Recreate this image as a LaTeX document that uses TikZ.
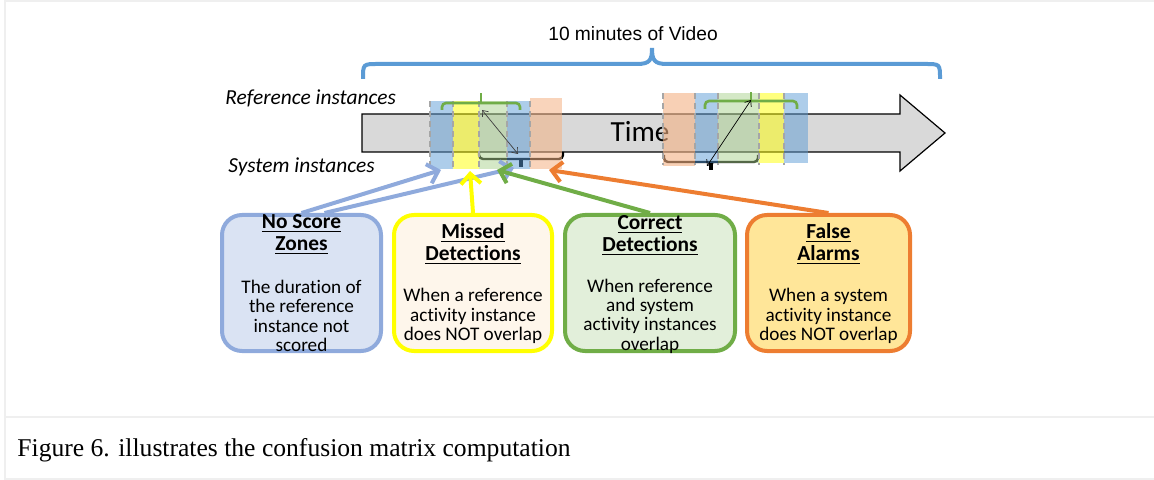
\documentclass[tikz,border=0pt]{standalone}
\usepackage{fontspec}
\setmainfont{Liberation Serif}
\newfontfamily\calfont[Ligatures=NoCommon]{Carlito}
\newfontfamily\arialfont{Liberation Sans}
\usetikzlibrary{arrows.meta}
\definecolor{framec}{HTML}{EFEFEF}
\definecolor{bracec}{HTML}{5B9BD5}
\definecolor{arrowgray}{HTML}{D9D9D9}
\definecolor{bandblue}{HTML}{5B9BD5}
\definecolor{bandyellow}{HTML}{FFFF00}
\definecolor{bandgreen}{HTML}{A9D18E}
\definecolor{bandpeach}{HTML}{F4B183}
\definecolor{dashc}{HTML}{A6A6A6}
\definecolor{refgreen}{HTML}{70AD47}
\definecolor{nszborder}{HTML}{8FAADC}
\definecolor{nszfill}{HTML}{DAE3F3}
\definecolor{misfill}{HTML}{FEF6EB}
\definecolor{misborder}{HTML}{FFFF00}
\definecolor{corfill}{HTML}{E2EFDA}
\definecolor{corborder}{HTML}{70AD47}
\definecolor{fafill}{HTML}{FFE699}
\definecolor{faborder}{HTML}{ED7D31}
\begin{document}
\begin{tikzpicture}[x=0.5pt,y=-0.5pt,
  infobox/.style={draw, line width=2pt, rounded corners=10pt, inner sep=0pt, minimum height=68pt},
  titletext/.style={font=\calfont\bfseries\fontsize{10.7}{11}\selectfont, align=center, inner sep=0pt},
  bodytext/.style={font=\calfont\fontsize{9.6}{9.7}\selectfont, align=center, inner sep=0pt},
  sidelabel/.style={font=\calfont\itshape\fontsize{10.7}{12}\selectfont, inner sep=0pt},
  pointer/.style={line width=2pt, -{Straight Barb[length=5pt,width=10pt]}},
  band/.style={fill opacity=0.5},
  bandedge/.style={dashc, dash pattern=on 3pt off 2pt, line width=1pt},
  refbracket/.style={refgreen, line width=1.3pt, rounded corners=2pt},
  sysbracket/.style={black, line width=1.2pt, rounded corners=2pt},
  overlaparrow/.style={line width=0.35pt, {Straight Barb[length=2.5pt,width=4pt]}-{Straight Barb[length=2.5pt,width=4pt]}}
]
\useasboundingbox (0,0) rectangle (1154,480);
% frame
\draw[framec, line width=1pt] (1154,1) -- (5,1) -- (5,479) -- (1154,479);
\draw[framec, line width=1pt] (5,417) -- (1154,417);
\node[anchor=west, font=\fontsize{12.8}{15}\selectfont, inner sep=0pt] (caption) at (17,450) {Figure 6. illustrates the confusion matrix computation};

% top brace
\node[font=\arialfont\fontsize{9.6}{11}\selectfont, inner sep=0pt] (video) at (633,34) {10 minutes of Video};
\draw[bracec, line width=2pt] (363,79) .. controls (363,64) .. (378,64) -- (637,64)
   .. controls (650,64) and (652,60) .. (652,48)
   .. controls (652,60) and (654,64) .. (667,64) -- (925,64) .. controls (940,64) .. (940,79);

% time arrow
\draw[fill=arrowgray, line width=0.6pt] (362,114) -- (900,114) -- (900,95) -- (945,133) -- (900,171) -- (900,152) -- (362,152) -- cycle;
\node[font=\calfont\fontsize{14.6}{16}\selectfont, inner sep=0pt] (time) at (640,132) {Time};

% side labels
\node[sidelabel, anchor=west] (reflabel) at (225,98) {Reference instances};
\node[sidelabel, anchor=west] (syslabel) at (228,167) {System instances};

% system brackets (drawn under bands)
\draw[sysbracket] (479,152) -- (479,159) -- (563,159) -- (563,152);
\draw[sysbracket, line width=1.6pt] (521,159) -- (521,167);
\draw[sysbracket] (664,155) -- (664,162) -- (758,162) -- (758,155);
\draw[sysbracket, line width=1.6pt] (711,162) -- (711,170);

% group 1 bands
\fill[band, bandblue] (430,101) rectangle (453,169);
\fill[band, bandyellow] (453,101) rectangle (479,169);
\fill[band, bandgreen] (479,101) rectangle (507,169);
\fill[band, bandblue] (507,101) rectangle (530,169);
\fill[band, bandpeach, fill opacity=0.55] (530,98) rectangle (562,169);
\foreach \xx in {430,453,479,507,530} \draw[bandedge] (\xx,101) -- (\xx,169);

% group 2 bands
\fill[band, bandpeach, fill opacity=0.6] (663,93) rectangle (695,166);
\fill[band, bandblue] (695,93) rectangle (718,163);
\fill[band, bandgreen] (718,93) rectangle (759,163);
\fill[band, bandyellow] (759,93) rectangle (784,163);
\fill[band, bandblue] (784,93) rectangle (808,163);
\foreach \xx in {663,695,718,759,784} \draw[bandedge] (\xx,93) -- (\xx,165);

% reference brackets
\draw[refbracket] (442,110) -- (442,103) -- (520,103) -- (520,110);
\draw[refbracket] (481,103) -- (481,93);
\draw[refbracket] (705,109) -- (705,101) -- (797,101) -- (797,109);
\draw[refbracket] (751,101) -- (751,92);

% overlap arrows
\coordinate (o1a) at (482,110);
\coordinate (o1b) at (518,154);
\coordinate (o2a) at (751,100);
\coordinate (o2b) at (707,166);
\draw[overlaparrow, black!75] (o1a) -- (o1b);
\draw[overlaparrow, black] (o2a) -- (o2b);

% boxes
\node[infobox, fill=nszfill, draw=nszborder, minimum width=79.5pt] (nsz) at (301.5,283) {};
\node[infobox, fill=misfill, draw=misborder, minimum width=79pt] (mis) at (473,283) {};
\node[infobox, fill=corfill, draw=corborder, minimum width=85pt] (cor) at (650,283) {};
\node[infobox, fill=fafill, draw=faborder, minimum width=81.5pt] (fa) at (828.5,283) {};

\node[titletext] (nszt) at (301.5,235) {\underline{No Score}\\\underline{Zones}};
\node[bodytext] (nszb) at (301.5,316) {The duration of\\the reference\\instance not\\scored};
\node[titletext] (mist) at (473,244) {\underline{Missed}\\\underline{Detections}};
\node[bodytext] (misb) at (473,316) {When a reference\\activity instance\\does NOT overlap};
\node[titletext] (cort) at (650,235.5) {\underline{Correct}\\\underline{Detections}};
\node[bodytext] (corb) at (650,316) {When reference\\and system\\activity instances\\overlap};
\node[titletext] (fat) at (828.5,244.5) {\underline{False}\\\underline{Alarms}};
\node[bodytext] (fab) at (828.5,316) {When a system\\activity instance\\does NOT overlap};

% pointer ends
\coordinate (p1) at (441,170);
\coordinate (p2) at (514,168);
\coordinate (p3) at (470,171);
\coordinate (p4) at (497,170);
\coordinate (p5) at (549,170);

\draw[pointer, nszborder] (nsz.north) -- (p1);
\draw[pointer, nszborder] ([xshift=11.5pt]nsz.north) -- (p2);
\draw[pointer, misborder] (mis.north) -- (p3);
\draw[pointer, corborder] (cor.north) -- (p4);
\draw[pointer, faborder] (fa.north) -- (p5);
\end{tikzpicture}
\end{document}
